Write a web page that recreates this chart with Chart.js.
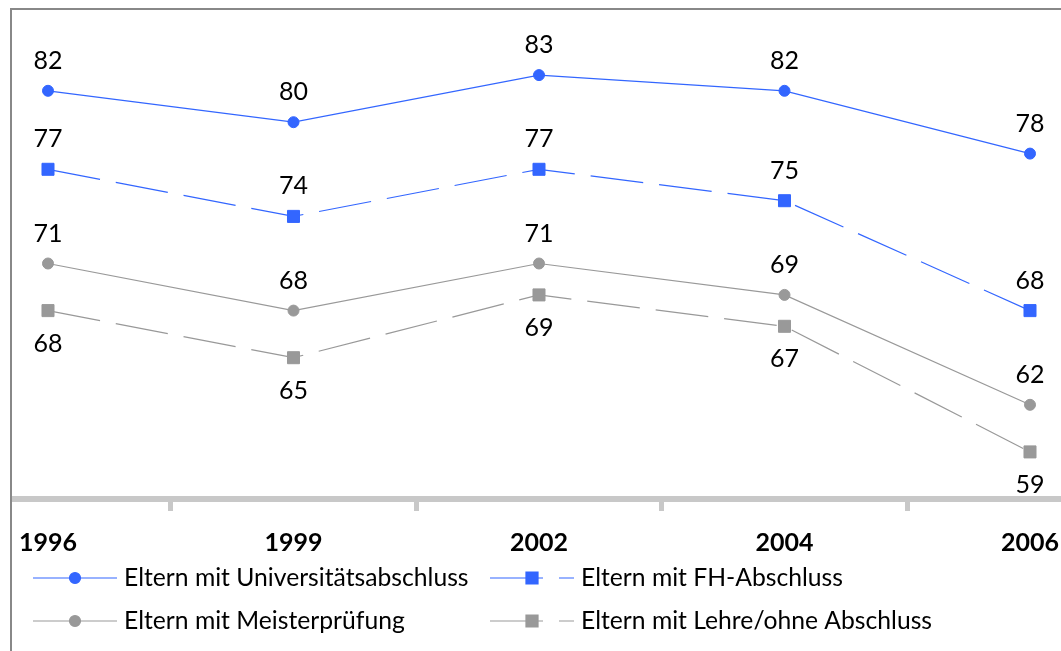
<!DOCTYPE html>
<html><head><meta charset="utf-8">
<script src="https://cdn.jsdelivr.net/npm/chart.js@4"></script>
<style>html,body{margin:0;padding:0;background:#fff;overflow:hidden}canvas{display:block}</style>
</head><body>
<canvas id="c" width="1061" height="651"></canvas>
<script>
// ---- data ----
const years = ['1996', '1999', '2002', '2004', '2006'];
const seriesNames = ['Eltern mit Universitätsabschluss', 'Eltern mit FH-Abschluss', 'Eltern mit Meisterprüfung', 'Eltern mit Lehre/ohne Abschluss'];
const uni = [82, 80, 83, 82, 78];
const fh = [77, 74, 77, 75, 68];
const meister = [71, 68, 71, 69, 62];
const lehre = [68, 65, 69, 67, 59];
const labelSide = ['above', 'above', 'above', 'below'];
const yMin = 56, yMax = 86;

const BLUE = '#3366FF', GREY = '#999999';
const FONT = 'Lato, "Open Sans", sans-serif';

function ds(label, data, color, dashed, style) {
  return {
    label, data,
    borderColor: color, backgroundColor: color,
    borderWidth: 1.2,
    borderDash: dashed ? [53, 16] : [],
    pointStyle: style,
    pointRadius: style === 'rect' ? 8.5 : 5.5,
    pointBorderWidth: 1,
    pointBorderColor: color,
    pointBackgroundColor: color,
    pointHoverRadius: style === 'rect' ? 8.5 : 5.5,
    tension: 0, fill: false
  };
}

const frame = {
  id: 'frame',
  beforeDraw(chart) {
    const ctx = chart.ctx;
    ctx.save();
    ctx.strokeStyle = '#888888';
    ctx.lineWidth = 2;
    ctx.beginPath();
    ctx.moveTo(11, 651); ctx.lineTo(11, 9); ctx.lineTo(1061, 9);
    ctx.stroke();
    ctx.restore();
  },
  beforeDatasetsDraw(chart) {
    const ctx = chart.ctx;
    const y = chart.chartArea.bottom;
    ctx.save();
    ctx.strokeStyle = '#C8C8C8';
    ctx.lineWidth = 6;
    ctx.beginPath();
    ctx.moveTo(12, y); ctx.lineTo(1061, y);
    ctx.stroke();
    ctx.restore();
  }
};

const dataLabels = {
  id: 'dataLabels',
  afterDatasetsDraw(chart) {
    const ctx = chart.ctx;
    ctx.save();
    ctx.font = '25px ' + FONT;
    ctx.fillStyle = '#000';
    ctx.textAlign = 'center';
    ctx.textBaseline = 'middle';
    chart.data.datasets.forEach((d, i) => {
      const meta = chart.getDatasetMeta(i);
      meta.data.forEach((el, j) => {
        const off = labelSide[i] === 'above' ? -30 : 33;
        ctx.fillText(String(d.data[j]), el.x, el.y + off);
      });
    });
    ctx.restore();
  }
};

const customLegend = {
  id: 'customLegend',
  afterDraw(chart) {
    const ctx = chart.ctx;
    const cols = [33, 490], rows = [578, 621];
    ctx.save();
    chart.data.datasets.forEach((d, i) => {
      const x0 = cols[i % 2], y = rows[Math.floor(i / 2)];
      ctx.save();
      ctx.strokeStyle = d.borderColor;
      ctx.lineWidth = d.borderWidth;
      ctx.setLineDash(d.borderDash);
      ctx.beginPath();
      ctx.moveTo(x0, y); ctx.lineTo(x0 + 84, y);
      ctx.stroke();
      ctx.setLineDash([]);
      ctx.fillStyle = d.pointBackgroundColor;
      Chart.helpers.drawPoint(ctx, {pointStyle: d.pointStyle, radius: d.pointRadius, borderWidth: 1, rotation: 0}, x0 + 42, y);
      ctx.restore();
      ctx.font = '24.7px ' + FONT;
      ctx.fillStyle = '#000';
      ctx.textAlign = 'left';
      ctx.textBaseline = 'middle';
      ctx.fillText(d.label, x0 + 91, y);
    });
    ctx.restore();
  }
};

function build() {
  new Chart(document.getElementById('c'), {
    type: 'line',
    data: {
      labels: years,
      datasets: [
        ds(seriesNames[0], uni, BLUE, false, 'circle'),
        ds(seriesNames[1], fh, BLUE, true, 'rect'),
        ds(seriesNames[2], meister, GREY, false, 'circle'),
        ds(seriesNames[3], lehre, GREY, true, 'rect')
      ]
    },
    options: {
      responsive: false,
      animation: false,
      layout: {padding: {top: 28, left: 48, right: 31, bottom: 0}},
      plugins: {legend: {display: false}, tooltip: {enabled: false}},
      scales: {
        y: {display: false, min: yMin, max: yMax},
        x: {
          offset: false,
          border: {display: false},
          grid: {display: true, drawOnChartArea: false, drawTicks: true, tickLength: 12, offset: true, color: '#C8C8C8', lineWidth: 5},
          ticks: {color: '#000', font: {family: FONT, size: 25, weight: 'bold'}, padding: 17, maxRotation: 0, autoSkip: false},
          afterFit(scale) { scale.height = 152; scale.paddingLeft = 0; scale.paddingRight = 0; }
        }
      }
    },
    plugins: [frame, dataLabels, customLegend]
  });
}
Promise.all([document.fonts.load('25px Lato'), document.fonts.load('bold 25px Lato')]).then(build, build);
</script>
</body></html>
